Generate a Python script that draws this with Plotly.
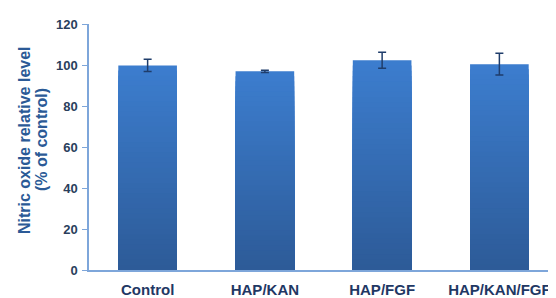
import plotly.graph_objects as go

categories = ["Control", "HAP/KAN", "HAP/FGF", "HAP/KAN/FGF"]
values = [99.8, 96.9, 102.3, 100.4]
errors = [3.0, 0.5, 3.9, 5.3]
y_ticks = [0, 20, 40, 60, 80, 100, 120]

top_rgb = (60, 125, 206)
bot_rgb = (45, 91, 152)
N = 40

FONT = "Liberation Sans, Arial, sans-serif"

fig = go.Figure()
# gradient bars: tallest (lightest) drawn first, shorter darker ones overlaid
for k in range(N, 0, -1):
    f = (k - 1) / (N - 1)
    c = tuple(round(b + (t - b) * f) for b, t in zip(bot_rgb, top_rgb))
    fig.add_trace(go.Bar(
        x=categories,
        y=[v * k / N for v in values],
        marker=dict(color="rgb(%d,%d,%d)" % c, line=dict(width=0)),
        width=0.5,
        hoverinfo="skip",
        showlegend=False,
    ))
fig.add_trace(go.Scatter(
    x=categories, y=values, mode="markers",
    marker=dict(size=1, color="rgba(0,0,0,0)"),
    error_y=dict(type="data", array=errors, visible=True,
                 color="#1f3d6b", thickness=1.5, width=4),
    showlegend=False,
))

fig.update_layout(
    width=556, height=298,
    margin=dict(l=81, r=6, t=16, b=36, autoexpand=False),
    paper_bgcolor="white", plot_bgcolor="white",
    barmode="overlay",
    font=dict(family=FONT, color="#1f3864"),
    annotations=[
        dict(text="<b>Nitric oxide relative level</b>", textangle=-90,
             xref="paper", yref="paper", x=0, y=0.528, xshift=-65,
             xanchor="center", yanchor="middle", showarrow=False,
             font=dict(size=16, color="#2b5a96", family=FONT)),
        dict(text="<b>(% of control)</b>", textangle=-90,
             xref="paper", yref="paper", x=0, y=0.528, xshift=-48,
             xanchor="center", yanchor="middle", showarrow=False,
             font=dict(size=16, color="#2b5a96", family=FONT)),
    ],
)
fig.update_xaxes(
    range=[-0.5, 3.5],
    showline=True, linecolor="#7ea6da", linewidth=1.5,
    ticks="", showgrid=False, ticklabelstandoff=5,
    tickfont=dict(size=15, color="#1f3864", family=FONT, weight="bold"),
)
fig.update_yaxes(
    range=[0, 120], tickvals=y_ticks,
    showline=True, linecolor="#7ea6da", linewidth=1.5,
    ticks="outside", ticklen=5, tickcolor="#7ea6da",
    showgrid=False, zeroline=False, ticklabelstandoff=2,
    tickfont=dict(size=13, color="#2a3e5c", family=FONT, weight="bold"),
)
fig.write_html("out.html")
